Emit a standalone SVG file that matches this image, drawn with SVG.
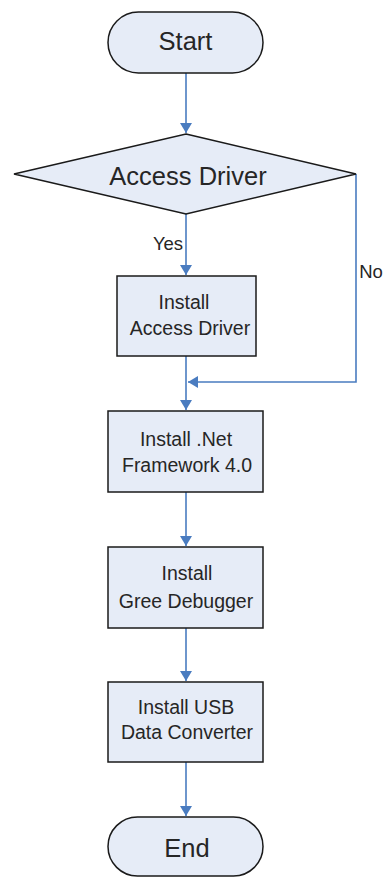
<svg xmlns="http://www.w3.org/2000/svg" width="383" height="878" viewBox="0 0 383 878">
<style>
.shape{fill:#e6ecf7;stroke:#1a1a1a;stroke-width:1.5}
.lbl{font-family:"Liberation Sans",Arial,sans-serif;fill:#262626;text-anchor:middle}
.big{font-size:25.5px}
.sm{font-size:19.5px}
.edge{font-size:18.5px}
.conn{fill:none;stroke:#4a7cc0;stroke-width:1.6}
</style>
<defs>
<marker id="arr" markerWidth="12" markerHeight="12" refX="10" refY="6" orient="auto" markerUnits="userSpaceOnUse">
<path d="M0,0 L10,6 L0,12 z" fill="#4a7cc0"/>
</marker>
</defs>
<rect width="383" height="878" fill="#fff"/>
<g id="connectors">
<path class="conn" d="M186,73 V133" marker-end="url(#arr)"/>
<path class="conn" d="M186,214 V275" marker-end="url(#arr)"/>
<path class="conn" d="M356,174 V382 H188" marker-end="url(#arr)"/>
<path class="conn" d="M186,356 V410" marker-end="url(#arr)"/>
<path class="conn" d="M186,492 V546" marker-end="url(#arr)"/>
<path class="conn" d="M186,628 V681" marker-end="url(#arr)"/>
<path class="conn" d="M186,762 V816" marker-end="url(#arr)"/>
<text class="lbl edge" x="168" y="250">Yes</text>
<text class="lbl edge" x="371" y="278">No</text>
</g>
<g id="start">
<rect class="shape" x="108" y="12" width="155" height="61" rx="30.5"/>
<text class="lbl big" x="185.5" y="50">Start</text>
</g>
<g id="decision">
<polygon class="shape" points="186,134 356,174 186,214 14,174"/>
<text class="lbl big" x="188" y="185">Access Driver</text>
</g>
<g id="install-access">
<rect class="shape" x="117" y="276" width="139" height="80"/>
<text class="lbl sm" x="184" y="309">Install</text>
<text class="lbl sm" x="190" y="335">Access Driver</text>
</g>
<g id="install-net">
<rect class="shape" x="108" y="411" width="155" height="81"/>
<text class="lbl sm" x="186" y="446">Install .Net</text>
<text class="lbl sm" x="187" y="472">Framework 4.0</text>
</g>
<g id="install-gree">
<rect class="shape" x="108" y="547" width="155" height="81"/>
<text class="lbl sm" x="187" y="580">Install</text>
<text class="lbl sm" x="186" y="608">Gree Debugger</text>
</g>
<g id="install-usb">
<rect class="shape" x="108" y="682" width="155" height="80"/>
<text class="lbl sm" x="186" y="714">Install USB</text>
<text class="lbl sm" x="187" y="739">Data Converter</text>
</g>
<g id="end">
<rect class="shape" x="108" y="817" width="155" height="59" rx="29.5"/>
<text class="lbl big" x="187" y="857">End</text>
</g>
</svg>
